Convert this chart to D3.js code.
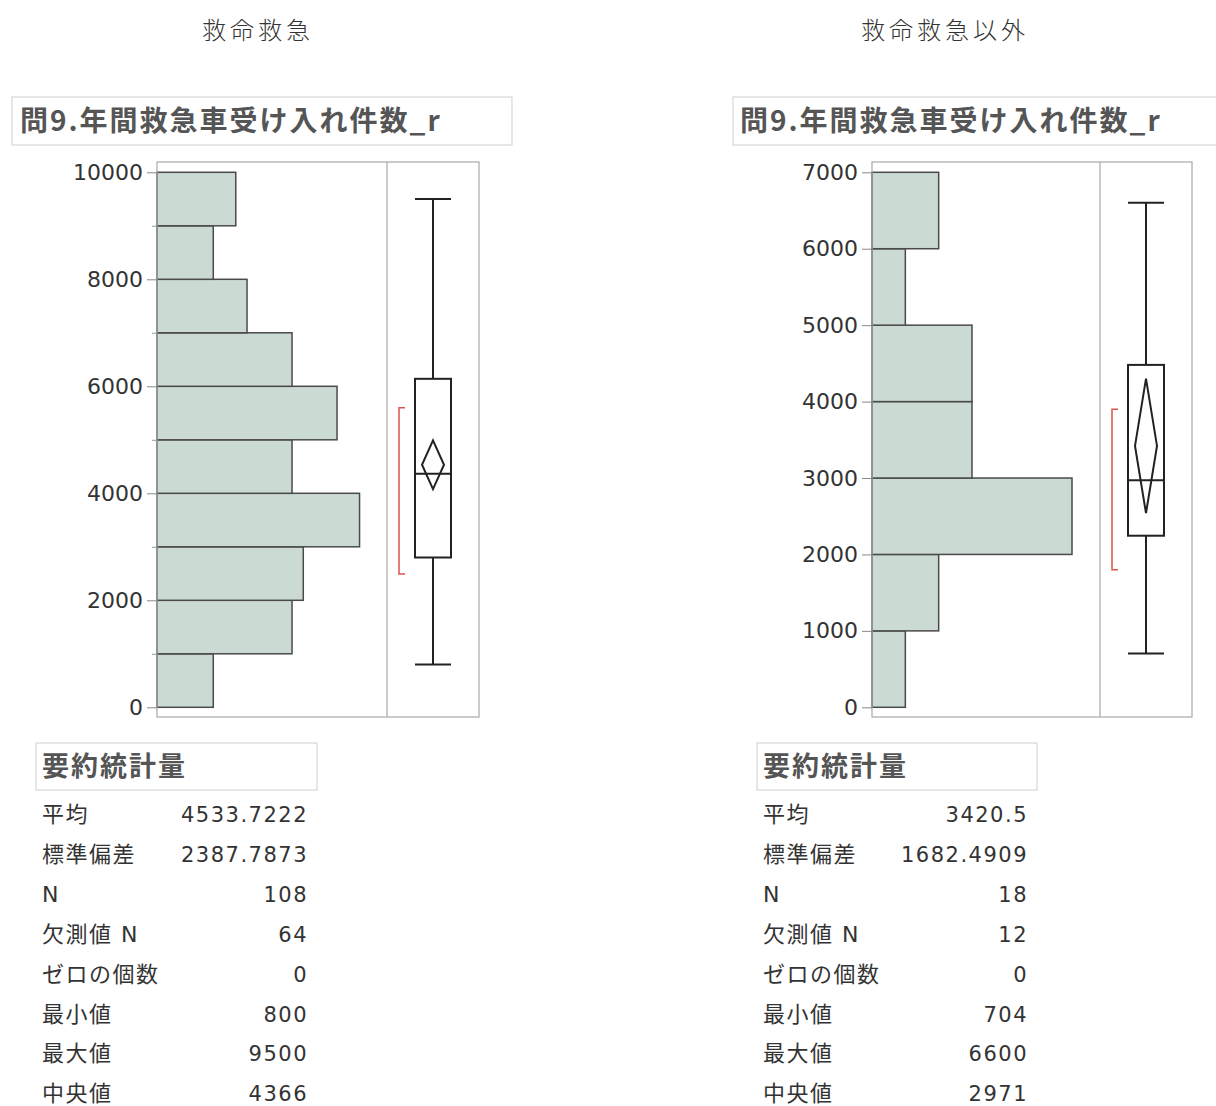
<!DOCTYPE html>
<html>
<head>
<meta charset="utf-8">
<script src="https://cdn.jsdelivr.net/npm/d3@7"></script>
<style>
  body { margin: 0; background: #fff; }
  svg { display: block; }
</style>
</head>
<body>
<svg id="chart"></svg>
<script>
// group titles and shared variable header
const groupTitles = ["救命救急", "救命救急以外"];
const varHeader = "問9.年間救急車受け入れ件数_r";
const statsHeader = "要約統計量";

// histogram bins (lower edge, width 1000) and counts
const leftBinStarts = [0, 1000, 2000, 3000, 4000, 5000, 6000, 7000, 8000, 9000];
const leftCounts = [5, 12, 13, 18, 12, 16, 12, 8, 5, 7];
const rightBinStarts = [0, 1000, 2000, 3000, 4000, 5000, 6000];
const rightCounts = [1, 2, 6, 3, 3, 1, 2];
const binWidth = 1000;

// y axis ticks
const leftTicks = [0, 2000, 4000, 6000, 8000, 10000];
const leftMinorTicks = [1000, 3000, 5000, 7000, 9000];
const rightTicks = [0, 1000, 2000, 3000, 4000, 5000, 6000, 7000];

// outlier box plot values: min, q1, median, q3, max, mean, 95% CI, shortest half
const leftBox = [800, 2800, 4366, 6140, 9500];
const leftMean = 4533.7222;
const leftCI = [4078, 4989];
const leftShortest = [2490, 5600];
const rightBox = [704, 2245, 2971, 4480, 6600];
const rightMean = 3420.5;
const rightCI = [2540, 4300];
const rightShortest = [1800, 3900];

// summary statistics
const statLabels = ["平均", "標準偏差", "N", "欠測値 N", "ゼロの個数", "最小値", "最大値", "中央値"];
const leftStats = ["4533.7222", "2387.7873", "108", "64", "0", "800", "9500", "4366"];
const rightStats = ["3420.5", "1682.4909", "18", "12", "0", "704", "6600", "2971"];

const width = 1216, height = 1106;
const svg = d3.select("#chart").attr("width", width).attr("height", height);

const jpFont = "'Noto Sans CJK JP', sans-serif";
const numFont = "'DejaVu Sans', 'Noto Sans CJK JP', sans-serif";

const panels = [
  {
    title: groupTitles[0], titleX: 258,
    headerBox: [12, 512], headerTextX: 20,
    frameLeft: 157, divider: 387, frameRight: 479,
    binStarts: leftBinStarts, counts: leftCounts, countMax: 20.44,
    yMax: 10000, ticks: leftTicks, minor: leftMinorTicks,
    box: leftBox, mean: leftMean, ci: leftCI, shortest: leftShortest,
    statsBox: [36, 317], statsLabelX: 42, statsValueX: 308, stats: leftStats
  },
  {
    title: groupTitles[1], titleX: 945,
    headerBox: [733, 1240], headerTextX: 740,
    frameLeft: 872, divider: 1100, frameRight: 1192,
    binStarts: rightBinStarts, counts: rightCounts, countMax: 6.84,
    yMax: 7000, ticks: rightTicks, minor: [],
    box: rightBox, mean: rightMean, ci: rightCI, shortest: rightShortest,
    statsBox: [757, 1037], statsLabelX: 763, statsValueX: 1028, stats: rightStats
  }
];

const plotTop = 162, plotBottom = 717;
const yTop = 172.3, yZero = 707.3;

panels.forEach(p => {
  const g = svg.append("g");

  // group title
  g.append("text")
    .attr("x", p.titleX).attr("y", 39)
    .attr("text-anchor", "middle")
    .attr("font-family", jpFont).attr("font-weight", 300)
    .attr("font-size", 24).attr("letter-spacing", 4)
    .attr("fill", "#333")
    .text(p.title);

  // variable header box
  g.append("rect")
    .attr("x", p.headerBox[0]).attr("y", 97)
    .attr("width", p.headerBox[1] - p.headerBox[0]).attr("height", 48)
    .attr("fill", "none").attr("stroke", "#cfcfcf").attr("stroke-width", 1);
  g.append("text")
    .attr("x", p.headerTextX).attr("y", 131)
    .attr("font-family", jpFont).attr("font-weight", 700)
    .attr("font-size", 28).attr("letter-spacing", 2)
    .attr("fill", "#555")
    .text(varHeader);

  const y = d3.scaleLinear().domain([0, p.yMax]).range([yZero, yTop]);
  const x = d3.scaleLinear().domain([0, p.countMax]).range([p.frameLeft, p.divider]);

  // histogram bars
  g.append("g").selectAll("rect")
    .data(p.binStarts.map((b, i) => ({ lo: b, hi: b + binWidth, n: p.counts[i] })))
    .join("rect")
    .attr("x", x(0))
    .attr("y", d => y(d.hi))
    .attr("width", d => x(d.n) - x(0))
    .attr("height", d => y(d.lo) - y(d.hi))
    .attr("fill", "#cbdad2")
    .attr("stroke", "#4a4a4a")
    .attr("stroke-width", 1.5);

  // frame and divider
  g.append("rect")
    .attr("x", p.frameLeft).attr("y", plotTop)
    .attr("width", p.frameRight - p.frameLeft).attr("height", plotBottom - plotTop)
    .attr("fill", "none").attr("stroke", "#a8a8a8").attr("stroke-width", 1.2);
  g.append("line")
    .attr("x1", p.divider).attr("x2", p.divider)
    .attr("y1", plotTop).attr("y2", plotBottom)
    .attr("stroke", "#a8a8a8").attr("stroke-width", 1.2);

  // y axis
  const axis = g.append("g")
    .attr("transform", `translate(${p.frameLeft},0)`)
    .call(d3.axisLeft(y).tickValues(p.ticks).tickSize(10).tickPadding(4).tickFormat(d3.format("d")));
  axis.select(".domain").remove();
  axis.selectAll(".tick line").attr("stroke", "#888");
  axis.selectAll(".tick text")
    .attr("font-family", numFont).attr("font-size", 22).attr("fill", "#333");
  if (p.minor.length) {
    const minorAxis = g.append("g")
      .attr("transform", `translate(${p.frameLeft},0)`)
      .call(d3.axisLeft(y).tickValues(p.minor).tickSize(5).tickFormat(""));
    minorAxis.select(".domain").remove();
    minorAxis.selectAll(".tick line").attr("stroke", "#999");
  }

  // box plot
  const bx = d3.scaleLinear().domain([0, 1]).range([p.divider, p.frameRight]);
  const cx = bx(0.5), hw = 18, dw = 11;
  const [mn, q1, med, q3, mx] = p.box;
  const bp = g.append("g").attr("stroke", "#222").attr("stroke-width", 2).attr("fill", "none");
  bp.append("line").attr("x1", cx).attr("x2", cx).attr("y1", y(mx)).attr("y2", y(q3));
  bp.append("line").attr("x1", cx).attr("x2", cx).attr("y1", y(q1)).attr("y2", y(mn));
  bp.append("line").attr("x1", cx - hw).attr("x2", cx + hw).attr("y1", y(mx)).attr("y2", y(mx));
  bp.append("line").attr("x1", cx - hw).attr("x2", cx + hw).attr("y1", y(mn)).attr("y2", y(mn));
  bp.append("rect").attr("x", cx - hw).attr("y", y(q3)).attr("width", hw * 2).attr("height", y(q1) - y(q3));
  bp.append("line").attr("x1", cx - hw).attr("x2", cx + hw).attr("y1", y(med)).attr("y2", y(med));
  bp.append("path")
    .attr("d", d3.line()([
      [cx, y(p.ci[1])], [cx + dw, y(p.mean)], [cx, y(p.ci[0])], [cx - dw, y(p.mean)]
    ]) + "Z");

  // shortest half bracket
  const sx = p.divider + 12;
  g.append("path")
    .attr("d", d3.line()([
      [sx + 6, y(p.shortest[1])], [sx, y(p.shortest[1])], [sx, y(p.shortest[0])], [sx + 6, y(p.shortest[0])]
    ]))
    .attr("fill", "none").attr("stroke", "#d9534f").attr("stroke-width", 1.5);

  // summary statistics
  g.append("rect")
    .attr("x", p.statsBox[0]).attr("y", 743)
    .attr("width", p.statsBox[1] - p.statsBox[0]).attr("height", 47)
    .attr("fill", "none").attr("stroke", "#cfcfcf").attr("stroke-width", 1);
  g.append("text")
    .attr("x", p.statsLabelX).attr("y", 776)
    .attr("font-family", jpFont).attr("font-weight", 700)
    .attr("font-size", 27).attr("letter-spacing", 2)
    .attr("fill", "#555")
    .text(statsHeader);

  statLabels.forEach((lab, i) => {
    const ty = 822 + i * 39.9;
    g.append("text")
      .attr("x", p.statsLabelX).attr("y", ty)
      .attr("font-family", numFont).attr("font-size", 22).attr("letter-spacing", 1.5)
      .attr("fill", "#333")
      .text(lab);
    g.append("text")
      .attr("x", p.statsValueX).attr("y", ty)
      .attr("text-anchor", "end")
      .attr("font-family", numFont).attr("font-size", 21).attr("letter-spacing", 1.5)
      .attr("fill", "#333")
      .text(p.stats[i]);
  });
});
</script>
</body>
</html>
